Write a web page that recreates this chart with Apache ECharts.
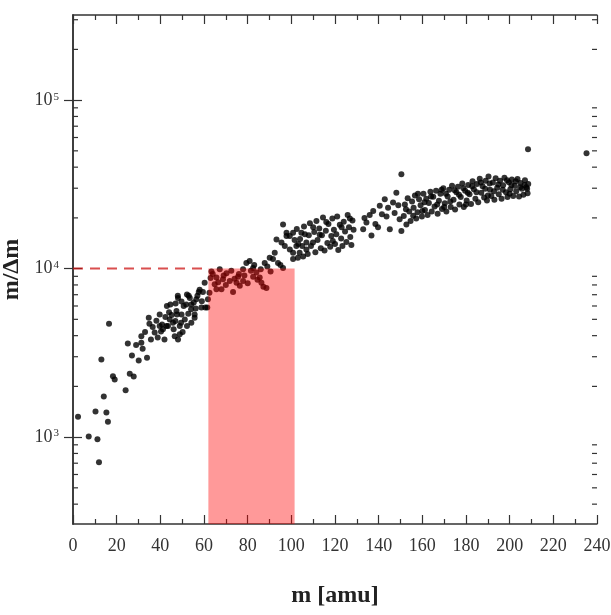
<!DOCTYPE html>
<html><head><meta charset="utf-8">
<script src="https://cdn.jsdelivr.net/npm/echarts@6/dist/echarts.min.js"></script>
<style>html,body{margin:0;padding:0;background:#fff}#chart{width:611px;height:615px}</style>
</head><body><div id="chart"></div>
<script>
// m [amu] , m/Δm
const lowMassPoints = [
 [2.3,1320],[7.2,1010],[10.3,1420],[11.2,970],[11.9,710],[13,2890],[14.1,1740],[15.3,1400],[16,1235],[16.5,4700],
 [18.3,2300],[19.1,2200],[24.1,1900],[25.1,3590],[26,2380],[27,3050],[27.8,2290],[28.9,3520],[30.1,2850],[31.3,3970],
 [31.9,3340],[31.3,3630],[33,4200],[33.9,2960],[34.7,5110],[35,4700],[35.7,3800],[36.5,4500],[37.4,4170],[38.2,4900],
 [38.8,3900],[39.7,5350],[39.7,4570],[40.3,4240],[40.8,4660],[41.2,4360],[41.9,3800],[42.3,5160],[42.8,4570],[43,6000],
 [43.5,4570],[44,5500],[44.3,4990],[44.6,6130],[45.2,5300],[45.8,4780],[46.1,4360],[46.6,3970],[46.9,4880],[47,6200],
 [47.4,5600],[47.6,5350],[48,6900],[48.1,3800],[48.1,6700],[48.9,4080],[48.9,4570],[49.5,4780],[49.7,6390],[49.7,5350],
 [50.2,4200],[50.7,5990],[51.2,4990],[51.9,6130],[52.2,4570],[52.2,7030],[52.8,5400],[53,6900],[53.5,6700],[54.1,5730],
 [54.2,6130],[54.2,4780],[55.3,6300],[55.7,5110],[55.7,5350],[56.2,5800],[56.5,6570],[57,6900],[57.6,7270],[58,7500],
 [58.8,5870],[59,6400],[59.5,7270],[60.3,8250],[60.6,5870],[61.5,5870],[61.8,6570]
];
const midMassPoints = [
 [62.5,7200],[63,8800],[63.4,9620],[64,9300],[64.9,8070],[65.7,8860],[65.7,7530],[66.5,8300],[67.2,9900],[68,7530],
 [68.7,8640],[69,9100],[70,8000],[70.3,9380],[71.8,8440],[72.5,9700],[73.3,7270],[74,8700],[74.9,8250],[75.6,8960],
 [76,9300],[76.4,7900],[77.9,9900],[77.9,8440],[78.5,9100],[79.4,10800],[80,8200],[80.9,11100],[81.5,9700],[82.5,10100],
 [82.5,8960],[83,10500],[84,9470],[84.5,8600],[85.5,8860],[86,9900],[86.3,8250],[87.2,7800],[87.8,10800],[88.6,7660],
 [89,10300],[90.1,11600],[90.5,9600],[91.6,11400],[92.4,12400],[93.2,14900],[93.9,10800],[95,10500],[95.5,14300],[96.2,10100],
 [96.2,18300],[97,13600],[97.8,16300],[97.8,15600],[99.3,13000],[99.3,15600]
];
const highMassPointsA = [
 [100.8,12400],[100.8,11400],[100.8,16300],[101.5,14800],[102.3,13600],[102.5,17200],[103,11600],[103.2,14000],[103.8,12400],[104,15000],
 [104.6,16300],[105,13600],[105.4,11800],[105.8,17800],[106.2,16000],[106.9,14300],[106.9,13000],[107.5,12200],[108,15800],[108.5,18600],
 [109,13600],[109.9,14300],[110,17600],[110.5,16500],[111,12500],[111.5,19200],[112,14800],[112.8,17300],[113,15900],[113.5,13200],
 [114,15800],[114.5,20100],[115.2,12800],[115.8,16800],[116,18900],[116.5,14200],[117,18400],[117.8,13500],[118.3,15600],[118.8,19800],
 [119,14600],[119.5,17000],[120,14000],[120.6,16000],[121,20400],[121.5,12900],[122.2,18200],[122.8,15100],[123,17600],[123.4,13600],
 [124,19000],[124.6,16600],[125.2,14400],[125.8,20800],[126.4,17600],[126.8,19800],[127,15400],[127.5,13800],[128,19300],[128.5,17000]
];
const highMassPointsB = [
 [132.9,17100],[133.5,20000],[134.4,18800],[135.9,20800],[136.7,15700],[137.5,22000],[138.5,18400],[139.7,17600],[140.5,23600],[141.5,21000],
 [142.8,25800],[143.6,20400],[144.3,23000],[145.1,17100],[146.6,24700],[147.3,21400],[148.1,28200],[149,23800],[149.6,19600],[150.4,16700],
 [151.5,20500],[152,24000],[152.5,22500],[152.7,18300],[153.3,26200],[154,21800],[154.6,19200],[155.3,25000],[155.8,20600],[156,23000],
 [156.6,27200],[157.2,19800],[157.8,21600],[158,27800],[158.5,25800],[159.2,23800],[159.8,20400],[160,22000],[160.5,27800],[161,24800],
 [161.2,22300],[161.8,26000],[162.4,20800],[163,24500],[163.7,28600],[164,26800],[164.3,21800],[165,26700],[165.6,23400],[166.3,29000],
 [166.8,24000],[167,21200],[167.6,25300],[168.3,27800],[168.8,29400],[169,22600],[169.6,30000],[170,23200],[170.3,24400],[170.8,27800],
 [171,21800],[171.6,26800],[172.3,29400],[172.8,25000],[173,23200],[173.6,31000],[174.3,25600],[174.8,29200],[175,22400],[175.6,28400],
 [176.3,30600],[176.8,27400],[177,24000],[177.6,26600],[178.3,32000],[178.8,30000],[179,23200],[179.6,29000],[180,24000],[180.3,25400],
 [180.8,28200],[181,31400],[181.6,27600],[182.3,24200],[182.8,30800],[183,33000],[183.6,29600],[184.3,26000],[184.8,28400],[185,31800],
 [185.6,24800],[186.3,34200],[186.8,32400],[187,28200],[187.6,30800],[188.3,26400],[188.8,29800],[189,33200],[189.6,25400],[190,27200],
 [190.3,35200],[190.8,32000],[191,29400],[191.6,27000],[192.3,32400],[192.8,28800],[193,25600],[193.6,34400],[194.3,30200],[194.8,31600],
 [195,27600],[195.6,33200],[196.3,26000],[196.8,29400],[197,31200],[197.6,34600],[198.3,28400],[198.8,33400],[199,26600],[199.6,32600],
 [200,27800],[200.3,29600],[200.8,31400],[201,33800],[201.6,27000],[202.3,31000],[202.8,33000],[203,28800],[203.6,34000],[204.3,26800],
 [204.8,30400],[205,32200],[205.6,29800],[206.3,27400],[206.8,31400],[207,33400],[207.6,30400],[208,29800],[208.2,28000],[208.5,31800]
];
const outlierPoints = [[150.4,36300],[208.4,51100],[235.2,48300]];

const yMajorTicks = [1000,10000,100000];
const yMinorTicks = [400,500,600,700,800,900,2000,3000,4000,5000,6000,7000,8000,9000,20000,30000,40000,50000,60000,70000,80000,90000,200000,300000];
const highlightMassRange = [62, 101.5];
const resolutionThreshold = 10000;
const thresholdLineMass = [0, 62];
const yMin = 305, yMax = 320000;

const serif = '"Liberation Serif","DejaVu Serif",serif';
const axisColor = '#333';

function yAxisCfg(pos, showLabel) {
  return {
    type:'log', logBase:10, min:yMin, max:yMax, position:pos,
    axisLine:{show:true, lineStyle:{color:axisColor, width:1.5}},
    axisTick:{show:true, inside:true, length:9, lineStyle:{color:axisColor, width:1.2}, customValues:yMajorTicks},
    axisLabel:{show:showLabel, customValues:yMajorTicks, margin:14, color:axisColor,
      formatter: v => '{b|10}{s|' + Math.round(Math.log10(v)) + '}',
      rich:{ b:{fontSize:18, fontFamily:serif, color:axisColor},
             s:{fontSize:11, fontFamily:serif, color:axisColor, verticalAlign:'top', padding:[0,0,6,1]} }},
    splitLine:{show:false}, minorTick:{show:false},
    name: (showLabel ? 'm/Δm' : ''), nameLocation:'middle', nameGap:31, nameRotate:90,
    nameTextStyle:{fontFamily:serif, fontSize:24, fontWeight:'bold', color:'#222'}
  };
}
function xAxisCfg(pos, showLabel) {
  return {
    type:'value', min:0, max:240, interval:20, position:pos,
    axisLine:{show:true, onZero:false, lineStyle:{color:axisColor, width:1.5}},
    axisTick:{show:true, inside:true, length:9, lineStyle:{color:axisColor, width:1.2}},
    minorTick:{show:true, splitNumber:2, length:5, lineStyle:{color:axisColor, width:1.2}},
    axisLabel:{show:showLabel, margin:13, fontFamily:serif, fontSize:18, color:axisColor},
    splitLine:{show:false}, minorSplitLine:{show:false},
    name: showLabel ? 'm [amu]' : '', nameLocation:'middle', nameGap:60,
    nameTextStyle:{fontFamily:serif, fontSize:24, fontWeight:'bold', color:'#222'}
  };
}

const chart = echarts.init(document.getElementById('chart'), null, {renderer:'canvas'});
chart.setOption({
  animation:false,
  backgroundColor:'#fff',
  grid:{left:73, right:14, top:15, bottom:91, containLabel:false, outerBoundsMode:'none'},
  xAxis:[xAxisCfg('bottom', true), xAxisCfg('top', false)],
  yAxis:[yAxisCfg('left', true), yAxisCfg('right', false)],
  series:[
    {type:'scatter', xAxisIndex:0, yAxisIndex:0, z:2, symbol:'circle', symbolSize:6,
     itemStyle:{color:'#000'},
     data: lowMassPoints.concat(midMassPoints, highMassPointsA, highMassPointsB, outlierPoints)},
    {type:'custom', xAxisIndex:0, yAxisIndex:0, z:5, silent:true,
     encode:{x:[0,1], y:2},
     data:[[highlightMassRange[0], highlightMassRange[1], resolutionThreshold]],
     renderItem:(params, api) => {
       const p1 = api.coord([api.value(0), api.value(2)]);
       const p2 = api.coord([api.value(1), yMin]);
       return {type:'rect', shape:{x:p1[0], y:p1[1], width:p2[0]-p1[0], height:p2[1]-p1[1]},
               style:{fill:'rgba(255,0,0,0.4)'}};
     }},
    {type:'line', xAxisIndex:0, yAxisIndex:0, z:6, symbol:'none', silent:true,
     lineStyle:{color:'rgba(204,20,20,0.75)', width:2, type:[10,7]},
     data: thresholdLineMass.map(m => [m, resolutionThreshold])},
    // minor log ticks on left and right frame
    {type:'custom', xAxisIndex:0, yAxisIndex:0, z:10, silent:true, clip:false,
     encode:{x:0, y:1},
     data: yMinorTicks.map(v => [0, v]),
     renderItem:(params, api) => {
       const y = api.coord([0, api.value(1)])[1];
       const cs = params.coordSys;
       const l = cs.x, r = cs.x + cs.width;
       const st = {stroke:axisColor, lineWidth:1.2};
       return {type:'group', children:[
         {type:'line', shape:{x1:l, y1:y, x2:l+5, y2:y}, style:st},
         {type:'line', shape:{x1:r-5, y1:y, x2:r, y2:y}, style:st}
       ]};
     }}
  ]
});
</script></body></html>
